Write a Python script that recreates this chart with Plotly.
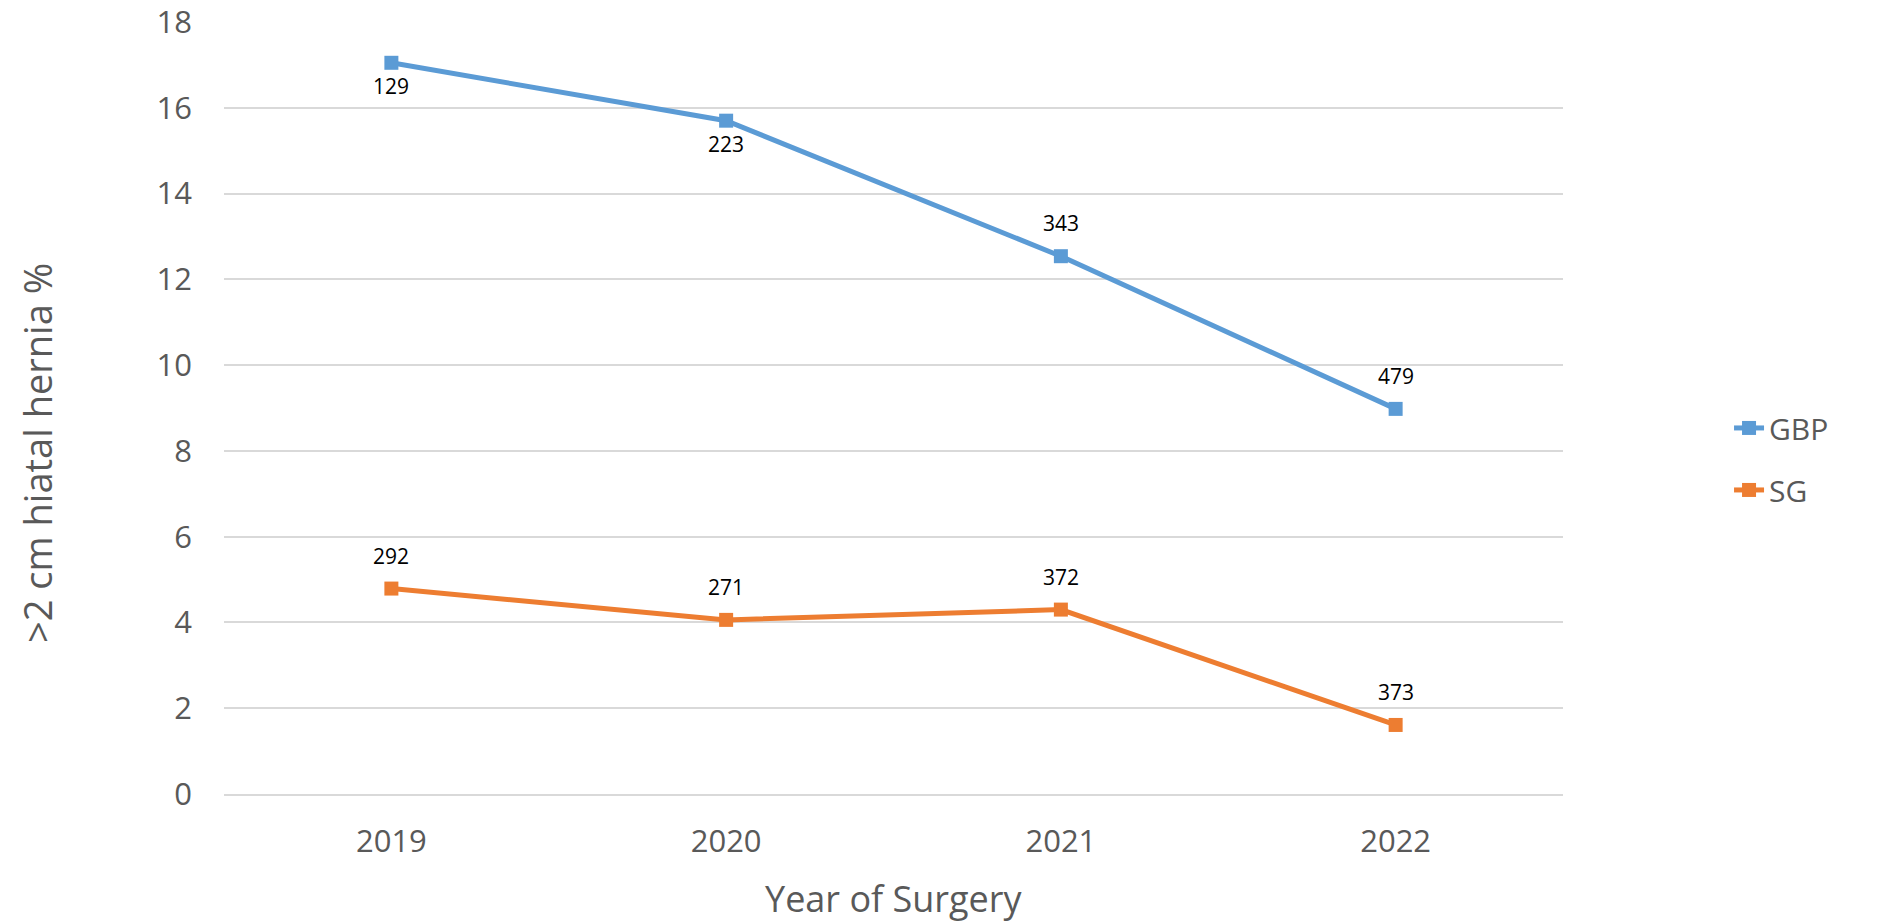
import plotly.graph_objects as go

years = ["2019", "2020", "2021", "2022"]
gbp_pct = [17.05, 15.70, 12.54, 8.98]
sg_pct = [4.79, 4.06, 4.30, 1.61]
gbp_n = ["129", "223", "343", "479"]
sg_n = ["292", "271", "372", "373"]
gbp_label_below = [True, True, False, False]
sg_label_below = [False, False, False, False]

BLUE = "#5B9BD5"
ORANGE = "#ED7D31"
GRAY = "#595959"
FONT = "Open Sans"

fig = go.Figure()
fig.add_trace(go.Scatter(x=years, y=gbp_pct, name="GBP", mode="lines+markers",
                         line=dict(color=BLUE, width=5),
                         marker=dict(symbol="square", size=14, color=BLUE),
                         legendgroup="a"))
fig.add_trace(go.Scatter(x=years, y=sg_pct, name="SG", mode="lines+markers",
                         line=dict(color=ORANGE, width=5),
                         marker=dict(symbol="square", size=14, color=ORANGE),
                         legendgroup="b"))

annotations = []
for vals, labels, below in [(gbp_pct, gbp_n, gbp_label_below), (sg_pct, sg_n, sg_label_below)]:
    for i, (y, t, b) in enumerate(zip(vals, labels, below)):
        annotations.append(dict(x=i, y=y, xref="x", yref="y", text=t, showarrow=False,
                                yshift=-23 if b else 33,
                                font=dict(family=FONT, size=21, color="#000000")))

annotations.append(dict(text="Year of Surgery", xref="paper", yref="paper", x=0.5, y=-0.136,
                        xanchor="center", yanchor="middle", showarrow=False,
                        font=dict(family=FONT, size=36, color=GRAY)))
annotations.append(dict(text=">2 cm hiatal hernia %", xref="paper", yref="paper", x=-0.14, y=0.441,
                        xanchor="center", yanchor="middle", showarrow=False, textangle=-90,
                        font=dict(family=FONT, size=38, color=GRAY)))

fig.update_layout(
    width=1903, height=922,
    paper_bgcolor="white", plot_bgcolor="white",
    margin=dict(l=224, r=340, t=22, b=128, autoexpand=False),
    showlegend=True,
    legend=dict(x=1.124, y=0.434, xanchor="left", yanchor="middle",
                font=dict(family=FONT, size=30, color=GRAY),
                tracegroupgap=20, bgcolor="rgba(0,0,0,0)"),
    annotations=annotations,
    font=dict(family=FONT, color=GRAY),
)
fig.update_xaxes(type="category", range=[-0.5, 3.5], showgrid=False, showline=True,
                 linecolor="#D9D9D9", linewidth=1.5, ticks="", automargin=False,
                 tickfont=dict(family=FONT, size=31, color=GRAY), ticklabelstandoff=19)
fig.update_yaxes(range=[0, 18.001], tick0=0, dtick=2, showgrid=True, gridcolor="#D9D9D9", gridwidth=1.5,
                 zeroline=False, showline=False, ticks="", automargin=False,
                 ticklabeloverflow="allow",
                 tickfont=dict(family=FONT, size=31, color=GRAY), ticklabelstandoff=31)

fig.write_html("out.html", config={"displayModeBar": False},
               post_script="document.body.style.margin='0';")
